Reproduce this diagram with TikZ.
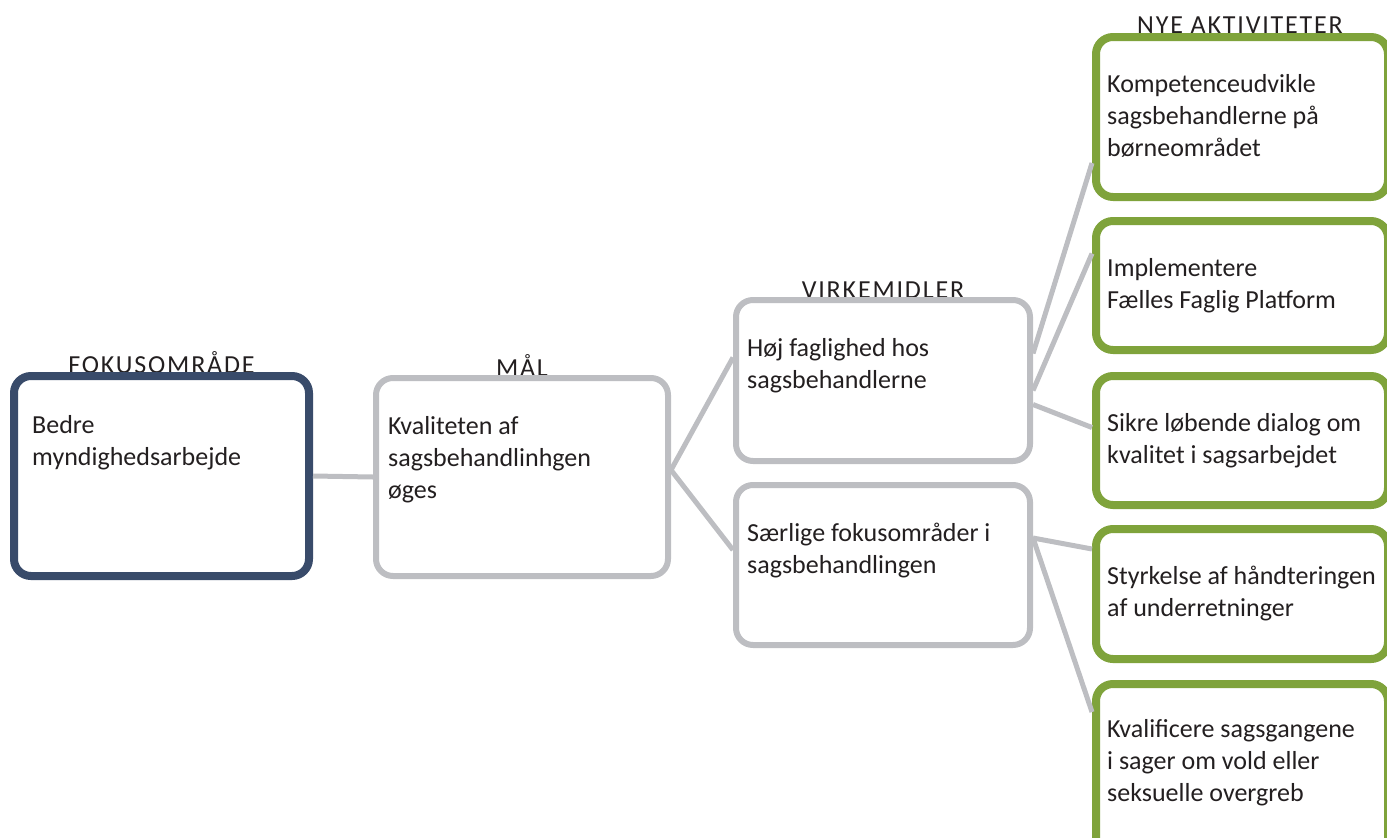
\documentclass[tikz,border=0pt]{standalone}
\usepackage{fontspec}
\setmainfont{Carlito}
\newfontfamily\headfont[LetterSpace=7]{Carlito}
\usepackage{tikz}
\definecolor{fokusblue}{HTML}{394B6A}
\definecolor{boxgray}{HTML}{BDBEC2}
\definecolor{actgreen}{HTML}{7FA33B}
\definecolor{ink}{HTML}{231F20}

\begin{document}
\begin{tikzpicture}[x=1pt, y=-1pt,
  box/.style={draw, rounded corners=17pt, fill=white, anchor=north west, inner sep=0pt},
  link/.style={draw=boxgray, line width=5pt},
  head/.style={anchor=base, text=ink, font=\headfont\fontsize{26}{32}\selectfont, inner sep=0pt},
  txt/.style={anchor=base west, align=left, text=ink, font=\fontsize{26}{32}\selectfont, inner sep=0pt}]
 \useasboundingbox (0,0) rectangle (1387,838);
 % headings
 \node[head] (fokushead) at (161.5,373) {FOKUSOMRÅDE};
 \node[head] (maalhead) at (522,376) {MÅL};
 \node[head] (virkhead) at (883,298) {VIRKEMIDLER};
 \node[head] (nyehead) at (1240,33) {NYE AKTIVITETER};
 % boxes
 \node[box, draw=fokusblue, line width=8pt, minimum width=295pt, minimum height=200pt] (fokus) at (10,372) {};
 \node[box, draw=boxgray, line width=6pt, minimum width=292pt, minimum height=198pt] (maal) at (373,375) {};
 \node[box, draw=boxgray, line width=6pt, minimum width=294pt, minimum height=161pt] (hoj) at (733,297) {};
 \node[box, draw=boxgray, line width=6pt, minimum width=294pt, minimum height=160pt] (saer) at (733,482) {};
 \node[box, draw=actgreen, line width=8pt, minimum width=292pt, minimum height=160pt] (akt1) at (1092,33) {};
 \node[box, draw=actgreen, line width=8pt, minimum width=292pt, minimum height=129pt] (akt2) at (1092,217) {};
 \node[box, draw=actgreen, line width=8pt, minimum width=292pt, minimum height=129pt] (akt3) at (1092,372) {};
 \node[box, draw=actgreen, line width=8pt, minimum width=292pt, minimum height=130pt] (akt4) at (1092,525) {};
 \node[box, draw=actgreen, line width=8pt, minimum width=292pt, minimum height=190pt] (akt5) at (1092,680) {};
 % texts (placed by the baseline of their last line)
 \node[txt] (fokustext) at (32,465) {Bedre\\myndighedsarbejde};
 \node[txt] (maaltext) at (388,498) {Kvaliteten af\\sagsbehandlinhgen\\øges};
 \node[txt] (hojtext) at (747,388) {Høj faglighed hos\\sagsbehandlerne};
 \node[txt] (saertext) at (747,573) {Særlige fokusområder i\\sagsbehandlingen};
 \node[txt] (akt1text) at (1107,156) {Kompetenceudvikle\\sagsbehandlerne på\\børneområdet};
 \node[txt] (akt2text) at (1107,308) {Implementere\\Fælles Faglig Platform};
 \node[txt] (akt3text) at (1107,463) {Sikre løbende dialog om\\kvalitet i sagsarbejdet};
 \node[txt] (akt4text) at (1107,616) {Styrkelse af håndteringen\\af underretninger};
 \node[txt] (akt5text) at (1107,801) {Kvalificere sagsgangene\\i sager om vold eller\\seksuelle overgreb};
 % connectors
 \draw[link] (fokus.east) -- (maal.west);
 \draw[link] ([yshift=7pt]maal.east) -- ([yshift=23pt]hoj.west);
 \draw[link] ([yshift=7pt]maal.east) -- ([yshift=15pt]saer.west);
 \draw[link] ([yshift=27pt]hoj.east) -- ([yshift=-46pt]akt1.west);
 \draw[link] ([yshift=-10pt]hoj.east) -- ([yshift=32pt]akt2.west);
 \draw[link] ([yshift=-24pt]hoj.east) -- ([yshift=13pt]akt3.west);
 \draw[link] ([yshift=27pt]saer.east) -- ([yshift=45pt]akt4.west);
 \draw[link] ([yshift=27pt]saer.east) -- ([yshift=67pt]akt5.west);
\end{tikzpicture}
\end{document}
